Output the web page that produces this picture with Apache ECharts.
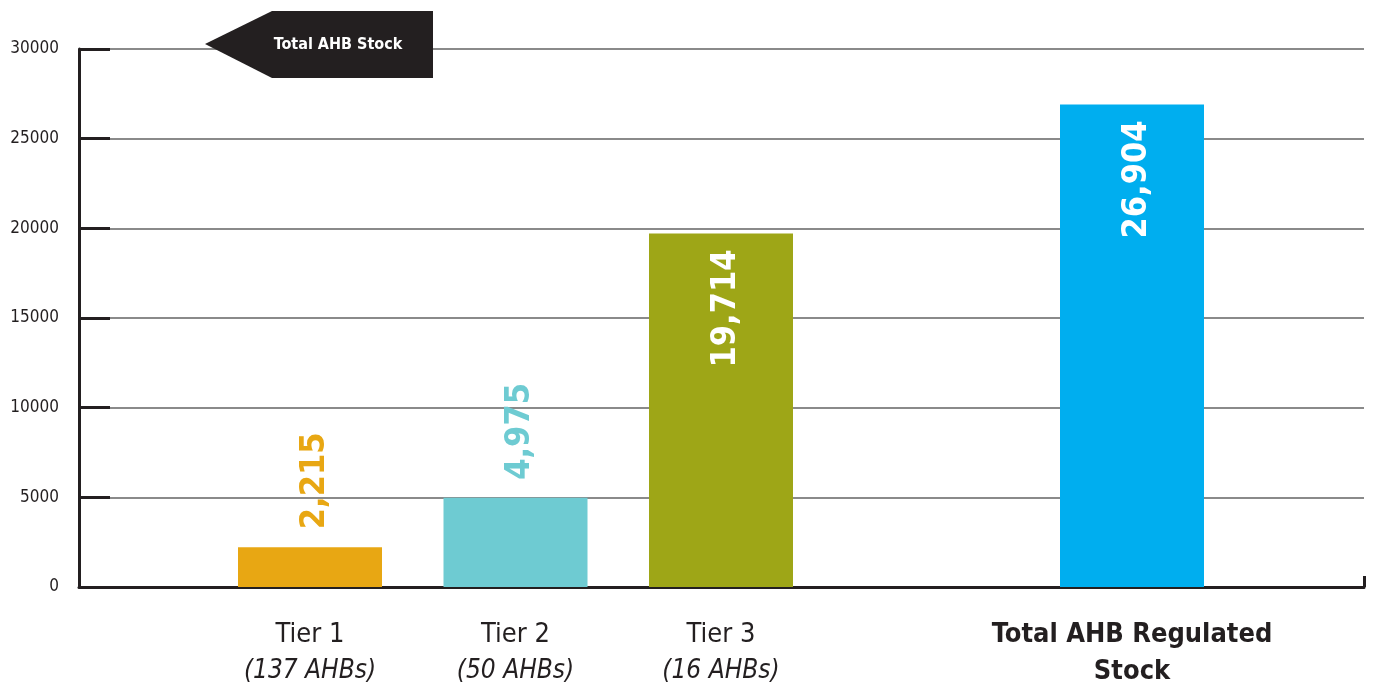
<!DOCTYPE html>
<html>
<head>
<meta charset="utf-8">
<script src="https://cdn.jsdelivr.net/npm/echarts@6/dist/echarts.min.js"></script>
<style>
html,body{margin:0;padding:0;background:#fff;}
#c{width:1373px;height:695px;}
</style>
</head>
<body>
<div id="c"></div>
<script>
const categories = ['Tier 1', 'Tier 2', 'Tier 3', '', 'Total AHB Regulated Stock'];
const subLabels = ['(137 AHBs)', '(50 AHBs)', '(16 AHBs)', '', ''];
const values = [2215, 4975, 19714, null, 26904];
const barColors = ['#E8A713', '#6ECBD2', '#9EA617', '#FFFFFF', '#00AEEF'];
const labelInside = [false, false, true, false, true];
const yMin = 0, yMax = 30000, yStep = 5000;
const annotationText = 'Total AHB Stock';

const FONT = '"DejaVu Sans Condensed", "Liberation Sans Narrow", sans-serif';
const DARK = '#231f20';

const chart = echarts.init(document.getElementById('c'), null, {renderer: 'canvas'});

const barData = values.map((v, i) => {
  if (v === null) return null;
  const inside = labelInside[i];
  return {
    value: v,
    itemStyle: {color: barColors[i]},
    label: inside ? {
      position: 'insideTop', rotate: 90, align: 'right', verticalAlign: 'middle',
      distance: 16, color: '#ffffff'
    } : {
      position: 'top', rotate: 90, align: 'left', verticalAlign: 'middle',
      distance: 18, color: barColors[i]
    }
  };
});

const option = {
  animation: false,
  backgroundColor: '#ffffff',
  grid: [
    {left: 79, right: 9, top: 49, bottom: 108, containLabel: false},
    {left: 207.25, right: 138.25, top: 49, bottom: 108, containLabel: false}
  ],
  xAxis: [
    {
      gridIndex: 0, type: 'value', min: 0, max: 1, interval: 1,
      axisLine: {show: true, onZero: false, lineStyle: {color: DARK, width: 3}},
      axisTick: {show: true, inside: true, length: 11, lineStyle: {color: DARK, width: 3}},
      axisLabel: {show: false}, splitLine: {show: false}
    },
    {
      gridIndex: 1, type: 'category', data: categories,
      axisLine: {show: false}, axisTick: {show: false}, splitLine: {show: false},
      axisLabel: {
        show: true, interval: 0, margin: 29,
        formatter: function (val, idx) {
          if (idx === 4) return '{b|Total AHB Regulated}\n{b|Stock}';
          if (!val) return '';
          return '{n|' + val + '}\n{i|' + subLabels[idx] + '}';
        },
        rich: {
          n: {fontFamily: FONT, fontSize: 27, color: DARK, lineHeight: 37, align: 'center'},
          i: {fontFamily: FONT, fontSize: 26, fontStyle: 'italic', color: DARK, lineHeight: 37, align: 'center'},
          b: {fontFamily: FONT, fontSize: 27, fontWeight: 'bold', color: DARK, lineHeight: 37, align: 'center'}
        }
      }
    }
  ],
  yAxis: [
    {
      gridIndex: 0, type: 'value', min: yMin, max: yMax, interval: yStep,
      axisLine: {show: true, lineStyle: {color: DARK, width: 3}},
      axisTick: {show: true, inside: true, length: 31, lineStyle: {color: DARK, width: 3}},
      axisLabel: {show: true, margin: 20, fontFamily: FONT, fontSize: 17, color: DARK,
        formatter: v => String(v)},
      splitLine: {show: true, lineStyle: {color: '#8a8a8a', width: 2}}
    },
    {
      gridIndex: 1, type: 'value', min: yMin, max: yMax, interval: yStep,
      axisLine: {show: false}, axisTick: {show: false}, axisLabel: {show: false}, splitLine: {show: false}
    }
  ],
  series: [
    {
      type: 'bar', xAxisIndex: 1, yAxisIndex: 1, barWidth: 144, z: 3,
      data: barData,
      label: {
        show: true, fontFamily: FONT, fontSize: 34, fontWeight: 'bold',
        offset: [0, 5],
        formatter: p => Number(p.value).toLocaleString('en-US')
      }
    }
  ],
  graphic: [
    {
      type: 'polygon', z: 10,
      shape: {points: [[205, 44], [272, 11], [433, 11], [433, 78], [272, 78]]},
      style: {fill: DARK}
    },
    {
      type: 'text', z: 11, x: 338, y: 45,
      style: {text: annotationText, fill: '#ffffff', font: 'bold 16px ' + FONT, align: 'center', verticalAlign: 'middle'}
    }
  ]
};
chart.setOption(option);
</script>
</body>
</html>
